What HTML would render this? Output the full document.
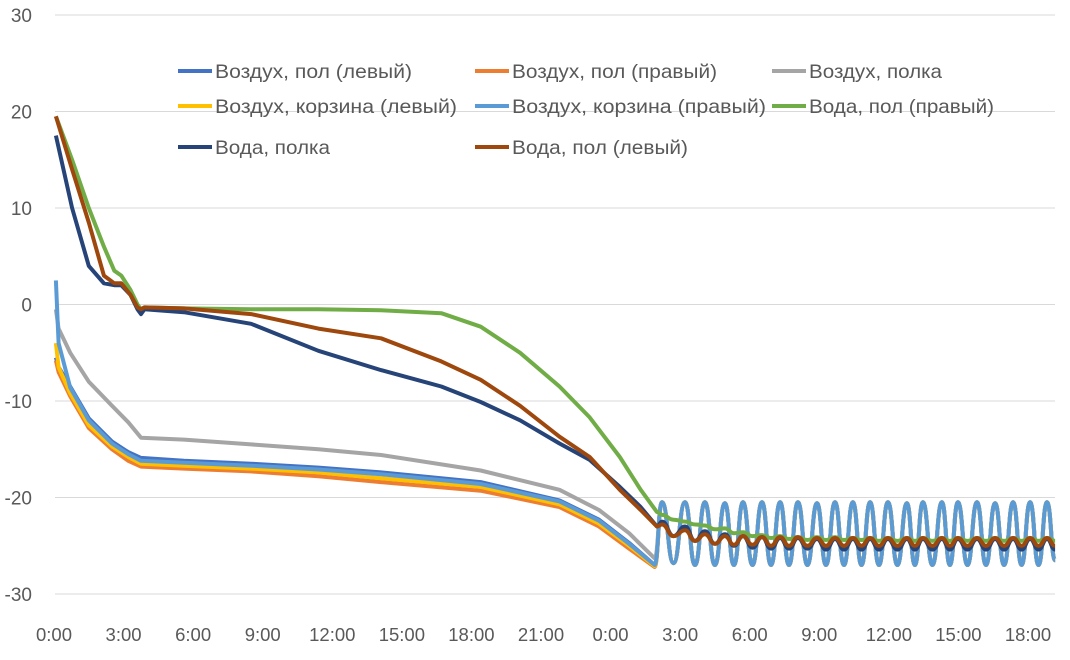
<!DOCTYPE html>
<html><head><meta charset="utf-8">
<style>
body{margin:0;background:#fff;}
svg text{font-family:"Liberation Sans",sans-serif;fill:#595959;}
</style></head>
<body>
<svg id="chart" width="1070" height="655" xmlns="http://www.w3.org/2000/svg">
<g id="grid"></g>
<g id="yaxis"></g>
<g id="xaxis"></g>
<g id="series"></g>
<g id="legend"></g>
</svg>
<script>
const yTicks=[30,20,10,0,-10,-20,-30];
const xTickLabels=["0:00","3:00","6:00","9:00","12:00","15:00","18:00","21:00","0:00","3:00","6:00","9:00","12:00","15:00","18:00"];
const xTickHours=[0,3,6,9,12,15,18,21,24,27,30,33,36,39,42];
const seriesNames=["Воздух, пол (левый)","Воздух, пол (правый)","Воздух, полка","Воздух, корзина (левый)","Воздух, корзина (правый)","Вода, пол (правый)","Вода, полка","Вода, пол (левый)"];
const seriesColors=["#4472C4","#ED7D31","#A5A5A5","#FFC000","#5B9BD5","#70AD47","#264478","#9E480E"];
const airTimes=[0.08,0.2,0.7,1.5,2.5,3.2,3.75,5.6,8.5,11.4,14.1,18.4,21.8,23.5,24.8,25.9];
const airLeft=[-5.5,-6.5,-8.5,-11.8,-14.2,-15.3,-15.9,-16.2,-16.5,-16.9,-17.4,-18.4,-20.3,-22.3,-24.7,-27];
const airRight=[-5.8,-7,-9.5,-12.8,-15,-16.2,-16.8,-17,-17.3,-17.8,-18.4,-19.3,-21,-23,-25.3,-27.2];
const airShelf=[-0.5,-2.5,-5,-8,-10.5,-12.2,-13.8,-14,-14.5,-15,-15.6,-17.2,-19.2,-21.3,-23.7,-26.3];
const airBasketL=[-4,-6.5,-9.2,-12.5,-14.7,-15.8,-16.5,-16.7,-17,-17.4,-18,-18.9,-20.7,-22.7,-25,-27.1];
const airBasketR=[2.5,-4,-8.6,-12,-14.4,-15.5,-16.2,-16.4,-16.7,-17.1,-17.6,-18.6,-20.4,-22.4,-24.8,-27];
const waterTimes=[0.08,0.78,1.5,2.15,2.6,2.9,3.3,3.6,3.75,3.9,5.6,8.5,11.4,14.1,16.7,18.4,20.1,21.8,23.1,24.4,25.3,26.0];
const waterRight=[19.5,15,10,6,3.5,3,1.5,0,-0.5,-0.3,-0.4,-0.5,-0.5,-0.6,-0.9,-2.3,-5,-8.5,-11.7,-15.8,-19.2,-21.5];
const waterShelf=[17.5,10,4,2.2,2,2,1,-0.5,-1,-0.5,-0.8,-2,-4.8,-6.8,-8.5,-10.1,-12,-14.4,-16.1,-18.9,-21,-23];
const waterLeft=[19.5,14,8.5,3,2.2,2.2,1,-0.3,-0.5,-0.3,-0.4,-1,-2.5,-3.5,-5.9,-7.8,-10.5,-13.7,-15.8,-19.2,-21.3,-23];
const peakTimes=[26.22,27.21,28.07,28.93,29.71,30.53,31.31,32.08,32.9,33.68,34.45,35.19,35.96,36.78,37.47,38.29,38.98,39.8,40.58,41.36,42.09,42.82];
const airPeak=[-20.5,-20.5,-20.5,-20.6,-20.5,-20.5,-20.5,-20.5,-20.6,-20.5,-20.5,-20.5,-20.5,-20.6,-20.5,-20.5,-20.5,-20.5,-20.6,-20.5,-20.5,-20.5];
const airTrough=[-26.8,-27,-27,-27,-27,-27,-27,-27,-27,-27,-27,-27,-27,-27,-27,-27,-27,-27,-27,-27,-27,-26.5];
const wRightHi=[-21.8,-22.5,-22.9,-23.2,-23.6,-23.9,-24.0,-24.1,-24.1,-24.1,-24.2,-24.2,-24.2,-24.2,-24.2,-24.2,-24.2,-24.2,-24.2,-24.2,-24.2,-24.2];
const wRightLo=[-22.3,-22.8,-23.3,-23.7,-24,-24.2,-24.3,-24.4,-24.4,-24.4,-24.4,-24.5,-24.5,-24.5,-24.5,-24.5,-24.5,-24.5,-24.5,-24.5,-24.5,-24.5];
const wShelfHi=[-22.5,-23,-23.5,-23.8,-24,-24.1,-24.2,-24.2,-24.3,-24.3,-24.3,-24.3,-24.3,-24.3,-24.3,-24.3,-24.3,-24.3,-24.3,-24.3,-24.3,-24.3];
const wShelfLo=[-24,-24.5,-24.8,-25,-25.2,-25.3,-25.3,-25.3,-25.4,-25.4,-25.4,-25.4,-25.4,-25.4,-25.4,-25.4,-25.4,-25.4,-25.4,-25.4,-25.4,-25.4];
const wLeftHi=[-22.8,-23.4,-23.8,-24,-24,-24.1,-24.1,-24.1,-24.2,-24.2,-24.2,-24.2,-24.2,-24.2,-24.2,-24.2,-24.2,-24.2,-24.2,-24.2,-24.2,-24.2];
const wLeftLo=[-24,-24.5,-24.8,-24.9,-24.9,-25,-25,-25,-25,-25,-25,-25,-25,-25,-25,-25,-25,-25,-25,-25,-25,-25];

const NS="http://www.w3.org/2000/svg";
function xScale(t){return 54+t*23.19;}
function yScale(v){return 304.5-v*9.65;}
function mk(tag,attrs,parent){const e=document.createElementNS(NS,tag);for(const k in attrs)e.setAttribute(k,attrs[k]);parent.appendChild(e);return e;}

const grid=document.getElementById('grid'),yax=document.getElementById('yaxis'),xax=document.getElementById('xaxis');
yTicks.forEach(v=>{
  const l=mk('line',{x1:55,x2:1055,y1:yScale(v),y2:yScale(v),stroke:'#d9d9d9','stroke-width':1},grid);
  
  
  const t=mk('text',{x:32,y:yScale(v)+7,'text-anchor':'end','font-size':19},yax);
  t.textContent=v;
  
  
});
xTickLabels.forEach((s,i)=>{
  const t=mk('text',{x:xScale(xTickHours[i]),y:641,'text-anchor':'middle','font-size':18.5},xax);
  t.textContent=s;
  
  
});

function trendPath(times,vals){
  return times.map((t,i)=>(i?'L':'M')+xScale(t).toFixed(1)+','+yScale(vals[i]).toFixed(1)).join(' ');
}
function oscPath(startT,startV,hi,lo){
  const pts=[[startT,startV]];
  for(let i=0;i<peakTimes.length;i++){
    pts.push([peakTimes[i],hi[i]]);
    const nt=i<peakTimes.length-1?(peakTimes[i]+peakTimes[i+1])/2:peakTimes[i]+0.35;
    pts.push([nt,lo[i]]);
  }
  let d='';
  for(let i=1;i<pts.length;i++){
    const x0=xScale(pts[i-1][0]),y0=yScale(pts[i-1][1]),x1=xScale(pts[i][0]),y1=yScale(pts[i][1]);const dx=(x1-x0)/2;
    d+=` C${(x0+dx).toFixed(1)},${y0.toFixed(1)} ${(x1-dx).toFixed(1)},${y1.toFixed(1)} ${x1.toFixed(1)},${y1.toFixed(1)}`;
  }
  return d;
}
const sg=document.getElementById('series');
const airSets=[airLeft,airRight,airShelf,airBasketL,airBasketR];
airSets.forEach((vals,i)=>{
  const d=trendPath(airTimes,vals)+oscPath(airTimes[airTimes.length-1],vals[vals.length-1],airPeak,airTrough);
  const p=mk('path',{d:d,fill:'none',stroke:seriesColors[i],'stroke-width':4,'stroke-linejoin':'round'},sg);
  
  
});
const waterSets=[[waterRight,wRightHi,wRightLo],[waterShelf,wShelfHi,wShelfLo],[waterLeft,wLeftHi,wLeftLo]];
waterSets.forEach((w,j)=>{
  const vals=w[0];
  const d=trendPath(waterTimes,vals)+oscPath(waterTimes[waterTimes.length-1],vals[vals.length-1],w[1],w[2]);
  const p=mk('path',{d:d,fill:'none',stroke:seriesColors[5+j],'stroke-width':4,'stroke-linejoin':'round'},sg);
  
  
});

const lg=document.getElementById('legend');
const lx=[178,475,772],ly=[71,106,147];
const legendWidths=[197,205,133,242,254,185,115,176];
seriesNames.forEach((n,i)=>{
  const x=lx[i%3],y=ly[Math.floor(i/3)];
  const g=mk('g',{},lg);
  
  
  mk('line',{x1:x,x2:x+34,y1:y,y2:y,stroke:seriesColors[i],'stroke-width':4},g);
  const t=mk('text',{x:x+37,y:y+7,'font-size':19.5,textLength:legendWidths[i],lengthAdjust:'spacingAndGlyphs'},g);
  t.textContent=n;
});
</script>
</body></html>
